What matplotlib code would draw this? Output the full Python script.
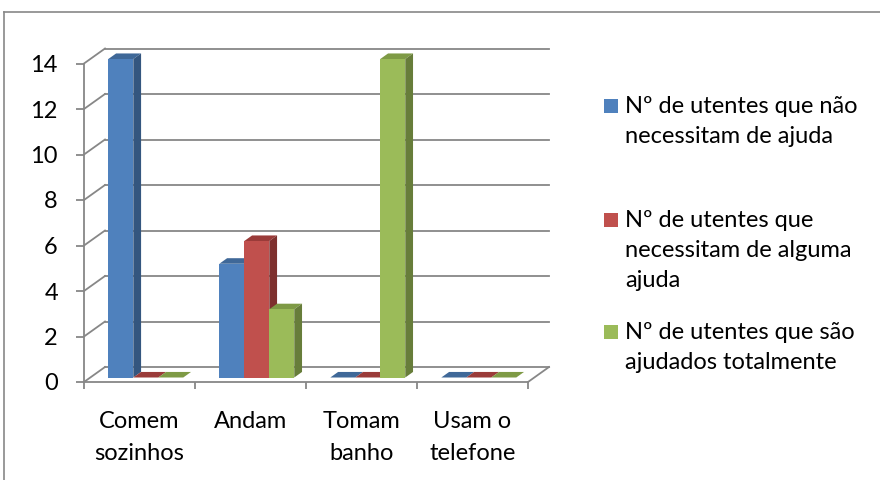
import matplotlib
matplotlib.use("Agg")
import matplotlib.pyplot as plt
from matplotlib.patches import Polygon, Rectangle
from matplotlib.lines import Line2D

# ---------------- data ----------------
categories = ["Comem\nsozinhos", "Andam", "Tomam\nbanho", "Usam o\ntelefone"]
series_names = [
    "Nº de utentes que não\nnecessitam de ajuda",
    "Nº de utentes que\nnecessitam de alguma\najuda",
    "Nº de utentes que são\najudados totalmente",
]
sem_ajuda = [14, 5, 0, 0]
alguma_ajuda = [0, 6, 0, 0]
ajuda_total = [0, 3, 14, 0]
y_ticks = [0, 2, 4, 6, 8, 10, 12, 14]

series = [sem_ajuda, alguma_ajuda, ajuda_total]
face_colors = ["#4F81BD", "#C0504D", "#9BBB59"]
side_colors = ["#34567F", "#7E302E", "#677D3A"]
top_colors = ["#3F6898", "#9A3B39", "#7E9A45"]
grid_col = "#878787"

plt.rcParams['font.family'] = ['Lato', 'DejaVu Sans']

W, H = 880, 480
fig = plt.figure(figsize=(W / 100, H / 100), dpi=100)

# axes placement in pixels (front plane)
L, R = 84, 528
B, T = 382, 382 - 14 * 22.75
ax = fig.add_axes([L / W, 1 - B / H, (R - L) / W, (B - T) / H])
ax.set_xlim(-0.5, len(categories) - 0.5)
ax.set_ylim(0, 14)

px_x = (R - L) / len(categories)
px_y = 22.75
DX = 21 / px_x      # depth offset in data x units
DY = 15 / px_y      # depth offset in data y units

# ---------------- 3D frame ----------------
x0, x1 = -0.5, len(categories) - 0.5
for v in y_ticks:
    ax.add_line(Line2D([x0 + DX, x1 + DX], [v + DY, v + DY], color=grid_col, lw=1.3,
                       clip_on=False, zorder=1))
    ax.add_line(Line2D([x0, x0 + DX], [v, v + DY], color=grid_col, lw=1.3,
                       clip_on=False, zorder=1))
ax.add_line(Line2D([x1, x1 + DX], [0, DY], color=grid_col, lw=1.3, clip_on=False, zorder=1))

# ---------------- bars ----------------
bw = 0.225
z0, zd = 0.3, 0.37
sx, sy = z0 * DX, z0 * DY
ddx, ddy = zd * DX, zd * DY
z = 3
for ci in range(len(categories)):
    for si, vals in enumerate(series):
        v = vals[ci]
        xc = ci + (si - 1) * bw + sx
        xl, xr = xc - bw / 2, xc + bw / 2
        bot, top = sy, sy + v
        ax.add_patch(Polygon([(xl, top), (xl + ddx, top + ddy), (xr + ddx, top + ddy), (xr, top)],
                             closed=True, facecolor=top_colors[si], edgecolor='none',
                             clip_on=False, zorder=z))
        ax.add_patch(Polygon([(xr, bot), (xr + ddx, bot + ddy), (xr + ddx, top + ddy), (xr, top)],
                             closed=True, facecolor=side_colors[si], edgecolor='none',
                             clip_on=False, zorder=z))
        if v > 0:
            ax.bar([xc], [v], width=bw, bottom=bot, color=face_colors[si],
                   edgecolor='none', zorder=z + 0.5, clip_on=False)
        z += 1

# ---------------- axes styling ----------------
for s in ['top', 'right']:
    ax.spines[s].set_visible(False)
for s in ['left', 'bottom']:
    ax.spines[s].set_color(grid_col)
    ax.spines[s].set_linewidth(1.3)
ax.set_facecolor('none')

ax.set_yticks(y_ticks)
ax.set_yticklabels([str(t) for t in y_ticks])
ax.tick_params(axis='y', length=5.8, width=1.3, color=grid_col, pad=13,
               labelsize=17, labelcolor='black')

ax.set_xticks([i - 0.5 for i in range(len(categories) + 1)])
ax.set_xticklabels([])
ax.tick_params(axis='x', which='major', length=5, width=1.3, color=grid_col)
ax.set_xticks(range(len(categories)), minor=True)
ax.set_xticklabels(categories, minor=True, linespacing=1.65)
ax.tick_params(axis='x', which='minor', length=0, pad=21, labelsize=17, labelcolor='black')

# ---------------- legend ----------------
first_baselines = [113, 227, 339]
for si, name in enumerate(series_names):
    b0 = first_baselines[si]
    fig.patches.append(Rectangle((604 / W, 1 - b0 / H), 14 / W, 14 / H,
                                 transform=fig.transFigure, facecolor=face_colors[si],
                                 edgecolor='none'))
    for k, line in enumerate(name.split("\n")):
        fig.text(625 / W, 1 - (b0 + 30 * k) / H, line, fontsize=17, va='baseline',
                 ha='left', color='black')

# chart border
fig.add_artist(Line2D([4 / W, 4 / W], [0, 1 - 12 / H], transform=fig.transFigure,
                      color=grid_col, lw=1.2))
fig.add_artist(Line2D([4 / W, 1], [1 - 12 / H, 1 - 12 / H], transform=fig.transFigure,
                      color=grid_col, lw=1.2))

fig.savefig("out.png", dpi=100, facecolor='white')
